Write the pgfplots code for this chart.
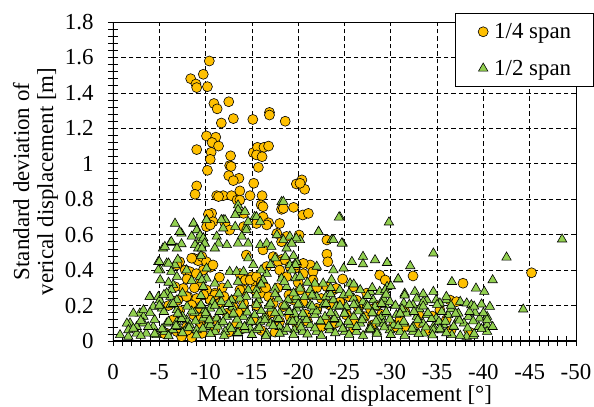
\documentclass[border=0pt]{standalone}
\usepackage{fontspec}
\setmainfont{Liberation Serif}
\usepackage{pgfplots}
\pgfplotsset{compat=1.18}
\definecolor{qyel}{RGB}{255,192,0}
\definecolor{qgrn}{RGB}{146,208,80}
\begin{document}
\begin{tikzpicture}
\useasboundingbox (-113bp,-66bp) rectangle (481bp,341bp);
\begin{axis}[
  scale only axis,
  width=463bp, height=319bp,
  at={(0,0)}, anchor=south west,
  x dir=reverse,
  xmin=-50, xmax=0, ymin=0, ymax=1.8,
  xtick={0,-5,-10,-15,-20,-25,-30,-35,-40,-45,-50},
  xticklabels={0,-5,-10,-15,-20,-25,-30,-35,-40,-45,-50},
  ytick={0,0.2,0.4,0.6,0.8,1,1.2,1.4,1.6,1.8},
  yticklabels={0,0.2,0.4,0.6,0.8,1,1.2,1.4,1.6,1.8},
  minor x tick num=4, minor y tick num=4,
  xtick pos=bottom, ytick pos=left,
  tick align=center,
  major tick length=10bp, minor tick length=10bp,
  every tick/.style={black, line width=0.6bp},
  grid=major,
  major grid style={black, line width=0.7bp, dash pattern=on 4.5bp off 3bp},
  axis line style={black, line width=0.8bp},
  tick label style={font=\fontsize{23}{26}\selectfont},
  xticklabel style={inner sep=1bp, yshift=-17bp},
  yticklabel style={xshift=-11bp},
  label style={font=\fontsize{23}{24}\selectfont},
  xlabel={Mean torsional displacement [°]},
  xlabel style={at={(rel axis cs:0.5,0)}, anchor=center, inner sep=1bp, yshift=-55bp},
  ylabel={Standard deviation of\\verical displacement [m]},
  ylabel style={align=center},
  legend image code/.code={\path (-7bp,0bp) (0bp,0bp); \draw[#1] plot coordinates {(0bp,0bp)};},
  legend style={at={(1.038,1.028)}, anchor=north east, draw=black, line width=0.8bp,
    fill=white, font=\fontsize{23}{26}\selectfont, row sep=16bp, inner xsep=20bp, inner ysep=8bp,
    /tikz/every odd column/.append style={column sep=4bp}},
  legend cell align=left,
]
\addplot[only marks, mark=*, mark size=5bp, mark options={fill=qyel, draw=black, line width=0.6bp}] coordinates {
(-10.4,1.58) (-9.75,1.505) (-8.39,1.48) (-8.96,1.45) (-9.04,1.43) (-10.2,1.435) (-10.9,1.34) (-11.25,1.31) (-12.5,1.35) (-11.7,1.23) (-13.0,1.255) (-15.1,1.25) (-16.9,1.29) (-16.9,1.275) (-18.6,1.24)
(-10.1,1.157) (-11.1,1.15) (-10.7,1.12) (-11.4,1.10) (-9.04,1.08) (-10.6,1.065) (-12.7,1.045) (-10.5,1.025) (-12.6,0.99) (-12.75,0.985) (-10.2,0.963) (-12.5,0.933) (-13.6,0.918) (-13.0,0.905)
(-15.15,1.063) (-15.6,1.093) (-16.3,1.093) (-16.8,1.10) (-15.5,1.05) (-16.1,1.04) (-15.7,0.98) (-15.2,0.89) (-13.7,0.847) (-9.04,0.875) (-8.86,0.828) (-19.8,0.886) (-20.4,0.909) (-20.7,0.856) (-20.2,0.89)
(-11.2,0.82) (-11.9,0.82) (-12.8,0.82) (-14.8,0.82) (-16.1,0.82) (-11.4,0.815) (-13.4,0.795) (-16.0,0.768) (-16.2,0.758) (-13.7,0.795) (-18.2,0.743) (-19.5,0.754) (-18.4,0.748) (-20.5,0.711) (-21.1,0.72)
(-10.65,0.72) (-10.3,0.715) (-10.1,0.645) (-10.8,0.673) (-10.5,0.655) (-16.2,0.70) (-16.8,0.667) (-18.0,0.663) (-12.1,0.663) (-14.1,0.72) (-12.6,0.626) (-14.1,0.645) (-15.5,0.663) (-16.6,0.655) (-17.7,0.607) (-18.75,0.59)
(-18.2,0.56) (-23.1,0.57) (-23.1,0.49) (-23.2,0.447) (-18.2,0.46) (-21.3,0.429) (-20.55,0.38) (-20.1,0.598) (-20.55,0.438) (-21.6,0.391) (-19.65,0.41)
(-8.7,0.467) (-9.2,0.453) (-7.2,0.447) (-6.9,0.429) (-8.5,0.467) (-7.8,0.40) (-8.3,0.391) (-10.5,0.416)
(-9.6,0.476) (-10.1,0.447) (-10.8,0.429) (-9.75,0.40)
(-16.2,0.514) (-16.6,0.42) (-17.3,0.476) (-17.85,0.447) (-18.6,0.457) (-19.1,0.42) (-19.8,0.429) (-18.4,0.363)
(-14.4,0.485) (-15.0,0.363) (-15.5,0.316) (-15.9,0.344) (-13.7,0.38) (-14.3,0.344) (-14.8,0.344) (-15.5,0.363) (-16.05,0.335) (-14.1,0.288) (-15.3,0.288) (-16.05,0.27)
(-7.6,0.297) (-8.1,0.25) (-9.4,0.325) (-11.0,0.27) (-13.7,0.288) (-14.1,0.194) (-6.7,0.306) (-7.95,0.25) (-9.04,0.24) (-8.5,0.203) (-9.4,0.184) (-8.7,0.147)
(-10.1,0.288) (-11.0,0.26) (-10.5,0.231) (-11.55,0.213) (-13.0,0.231) (-14.1,0.213) (-17.3,0.213) (-18.4,0.194) (-19.5,0.231)
(-18.75,0.363) (-20.2,0.288) (-21.6,0.344) (-22.0,0.175) (-23.8,0.288) (-25.95,0.306) (-25.2,0.156)
(-23.1,0.306) (-24.1,0.297) (-26.3,0.231) (-27.4,0.27) (-22.0,0.184) (-23.4,0.203) (-25.2,0.147) (-27.2,0.137)
(-28.8,0.372) (-29.4,0.344) (-32.4,0.367) (-37.8,0.326) (-36.4,0.231) (-37.1,0.222) (-35.3,0.175) (-30.3,0.09) (-30.5,0.08) (-45.2,0.385)
(-10.1,0.137) (-11.2,0.118) (-12.3,0.156) (-13.35,0.099) (-15.15,0.118) (-16.6,0.137) (-18.0,0.109) (-19.1,0.137) (-19.8,0.099)
(-5.8,0.043) (-7.95,0.08) (-9.4,0.10) (-5.6,0.04) (-6.9,0.053) (-7.4,0.025) (-8.5,0.02) (-9.6,0.043)
(-11,0.06) (-12.5,0.05) (-14,0.07) (-16,0.06) (-17.5,0.05) (-21,0.11) (-22.5,0.08) (-24,0.1) (-26,0.07) (-28,0.09) (-31,0.12) (-33,0.1) (-34.5,0.14) (-6.5,0.12) (-7.2,0.17) (-8,0.06) (-36.5,0.06)
(-6.0,0.2) (-7.0,0.23) (-8.8,0.3) (-9.8,0.26) (-11.8,0.3) (-12.0,0.25) (-13.0,0.19) (-15.5,0.2) (-16.8,0.25) (-17.8,0.3) (-19.0,0.26) (-20.5,0.22) (-21.2,0.26) (-22.5,0.24) (-24.5,0.22) (-25.5,0.25) (-26.5,0.19) (-28.5,0.2) (-29.0,0.15) (-31.5,0.17) (-33.0,0.15)
(-8.0,0.35) (-9.0,0.38) (-11.5,0.36) (-16.5,0.3) (-18.0,0.4) (-20.0,0.33) (-22.0,0.3) (-24.8,0.35) (-9.5,0.13) (-13.5,0.16) (-17.2,0.16) (-20.8,0.15) (-23.0,0.12) (-26.0,0.11) (-27.8,0.18) (-31.5,0.08) (-34.0,0.06) (-36.0,0.12) (-38.5,0.05)
};
\addlegendentry{1/4 span}
\addplot[only marks, mark=triangle*, mark size=5.4bp, mark options={fill=qgrn, draw=black, line width=0.6bp}] coordinates {
(-6.7,0.663) (-8.7,0.663) (-10.1,0.683) (-7.4,0.607) (-8.5,0.59) (-9.1,0.626) (-9.4,0.57) (-9.75,0.58) (-9.9,0.551)
(-6.2,0.555) (-7.4,0.547) (-5.4,0.523) (-6.9,0.523) (-8.86,0.542) (-9.2,0.523)
(-4.9,0.447) (-5.8,0.438) (-6.7,0.429) (-5.1,0.40) (-6.3,0.391) (-5.1,0.344) (-6.9,0.363) (-7.95,0.40) (-9.4,0.363) (-10.1,0.41)
(-6.5,0.316) (-6.3,0.288) (-5.8,0.27) (-4.0,0.25) (-4.9,0.25) (-6.2,0.25) (-6.9,0.231)
(-2.9,0.156) (-3.3,0.137) (-4.35,0.194) (-5.3,0.184) (-6.2,0.203) (-6.9,0.175)
(-1.84,0.1) (-2.56,0.08) (-3.3,0.1) (-4.35,0.08) (-5.8,0.1) (-6.9,0.109) (-7.95,0.118) (-9.75,0.128)
(-0.76,0.034) (-1.65,0.025) (-2.56,0.043) (-3.6,0.043) (-4.7,0.034) (-5.6,0.053) (-6.5,0.062) (-7.95,0.072) (-9.04,0.062) (-10.1,0.08)
(-7.2,0.616) (-5.6,0.532) (-6.3,0.56) (-5.0,0.447) (-4.9,0.40) (-6.0,0.438) (-3.95,0.25) (-5.05,0.23) (-3.3,0.175) (-2.2,0.156) (-1.5,0.099) (-1.66,0.062)
(-8.7,0.664) (-9.04,0.626) (-9.4,0.597) (-10.1,0.683) (-11.9,0.683) (-13.4,0.727) (-13.5,0.766) (-14.4,0.645) (-15.3,0.701) (-18.2,0.785)
(-13.5,0.74) (-14.25,0.73) (-12.1,0.683) (-13.2,0.711) (-11.7,0.683) (-11.9,0.636) (-14.6,0.673) (-15.5,0.70) (-15.9,0.673) (-18.4,0.786)
(-13.2,0.645) (-14.4,0.626) (-13.9,0.59) (-13.5,0.551) (-11.2,0.59) (-11.4,0.551) (-12.3,0.542) (-11.0,0.523)
(-14.6,0.551) (-15.9,0.542) (-16.6,0.551) (-17.1,0.532) (-17.7,0.598) (-18.4,0.57) (-19.1,0.59) (-19.3,0.551) (-18.75,0.523) (-20.2,0.57)
(-9.75,0.58) (-9.9,0.551) (-9.6,0.523)
(-14.6,0.467) (-15.15,0.429) (-17.5,0.467) (-18.6,0.476) (-19.1,0.429) (-19.8,0.447)
(-12.6,0.391) (-13.35,0.391) (-12.4,0.316) (-14.1,0.391)
(-16.6,0.38) (-18.2,0.353) (-18.75,0.306) (-17.5,0.297) (-16.2,0.344)
(-10.1,0.353) (-9.6,0.344) (-9.75,0.306)
(-14.6,0.288) (-15.5,0.288) (-14.4,0.25) (-15.7,0.231) (-13.7,0.24) (-12.8,0.231) (-11.7,0.222) (-10.8,0.222) (-10.5,0.184) (-9.9,0.175)
(-17.85,0.24) (-18.9,0.231) (-19.8,0.231) (-17.1,0.184) (-18.75,0.194) (-19.8,0.184) (-18.0,0.156) (-16.4,0.137)
(-10.1,0.147) (-11.2,0.128) (-12.3,0.137) (-13.0,0.147) (-14.1,0.137) (-14.8,0.118) (-15.3,0.147) (-15.9,0.109) (-17.0,0.099) (-18.0,0.08) (-19.1,0.109) (-19.8,0.118)
(-10.5,0.09) (-11.55,0.099) (-12.6,0.08) (-13.7,0.09) (-14.8,0.071) (-15.5,0.062) (-16.6,0.043) (-18.4,0.053) (-19.6,0.062) (-11.0,0.053) (-12.1,0.053) (-13.35,0.043) (-14.25,0.062)
(-24.5,0.70) (-22.2,0.617) (-23.6,0.57) (-24.8,0.551) (-19.8,0.58) (-19.3,0.551)
(-25.8,0.447) (-27.0,0.476) (-28.3,0.457) (-27.0,0.434) (-29.6,0.441) (-24.9,0.41) (-23.8,0.40) (-23.6,0.345)
(-19.7,0.43) (-19.3,0.40) (-19.7,0.355) (-20.2,0.363) (-21.8,0.325) (-22.7,0.325) (-21.3,0.288) (-20.2,0.297)
(-24.5,0.288) (-25.6,0.325) (-26.7,0.288) (-27.8,0.278) (-28.8,0.278) (-29.6,0.306)
(-19.8,0.25) (-20.7,0.25) (-22.0,0.25) (-23.0,0.25) (-23.8,0.231) (-24.9,0.259) (-26.0,0.24) (-27.0,0.222) (-28.1,0.231) (-29.2,0.231)
(-20.2,0.203) (-21.3,0.203) (-22.7,0.203) (-24.1,0.194) (-25.2,0.194) (-26.3,0.203) (-27.4,0.203) (-28.3,0.194) (-29.4,0.203)
(-19.6,0.156) (-20.7,0.137) (-21.8,0.147) (-22.9,0.137) (-24.0,0.147) (-25.05,0.156) (-26.0,0.137) (-27.0,0.137) (-28.1,0.156) (-29.0,0.137)
(-20.2,0.099) (-21.3,0.09) (-22.4,0.109) (-23.4,0.08) (-24.5,0.099) (-25.6,0.09) (-26.7,0.099) (-27.8,0.08) (-28.8,0.099)
(-20.5,0.053) (-22.0,0.053) (-23.4,0.062) (-25.05,0.053) (-26.3,0.053) (-27.6,0.062) (-28.5,0.053)
(-29.8,0.67) (-34.6,0.495) (-29.6,0.441) (-32.1,0.423) (-30.8,0.348)
(-36.6,0.334) (-39.2,0.297) (-40.1,0.278) (-41.0,0.344)
(-29.4,0.288) (-29.2,0.24) (-31.5,0.268) (-32.6,0.278) (-34.6,0.278) (-32.8,0.24) (-33.9,0.231)
(-29.9,0.222) (-31.4,0.213) (-32.4,0.203) (-33.5,0.222) (-34.9,0.231) (-36.0,0.231) (-37.5,0.222) (-38.2,0.213) (-38.7,0.203) (-39.8,0.207) (-40.7,0.194) (-35.3,0.213)
(-29.55,0.156) (-30.6,0.147) (-31.7,0.156) (-32.8,0.137) (-33.9,0.147) (-34.9,0.128) (-36.2,0.147) (-37.3,0.128) (-38.4,0.137) (-39.6,0.128) (-40.4,0.137) (-37.3,0.156)
(-29.2,0.099) (-30.3,0.09) (-31.4,0.099) (-32.4,0.08) (-33.5,0.099) (-34.6,0.08) (-35.7,0.09) (-36.8,0.08) (-39.5,0.08) (-40.4,0.09)
(-29.9,0.062) (-31.0,0.053) (-32.4,0.053) (-33.5,0.043) (-34.6,0.062) (-35.5,0.062) (-36.6,0.034) (-38.2,0.025) (-38.9,0.03) (-40.4,0.053)
(-48.5,0.574) (-44.3,0.179) (-42.5,0.472) (-22.2,0.617) (-24.4,0.697) (-23.8,0.57) (-24.7,0.551) (-30.8,0.35)
(-7.5,0.14) (-8.3,0.09) (-8.8,0.16) (-7.0,0.08) (-9.5,0.2) (-11.8,0.17) (-12.9,0.19) (-16.8,0.2) (-17.6,0.12) (-21.6,0.17) (-23.9,0.12) (-26.6,0.17) (-28.6,0.12) (-31.2,0.18) (-33.1,0.18) (-36.5,0.18) (-37.9,0.1) (-39.1,0.16) (-35.2,0.11)
(-3.0,0.03) (-4.5,0.04) (-6.0,0.028) (-7.5,0.045) (-9.0,0.033) (-10.5,0.04) (-12.0,0.03) (-13.5,0.046) (-15.0,0.035) (-16.5,0.028) (-18.0,0.042) (-19.5,0.034) (-21.0,0.038) (-22.5,0.03) (-24.0,0.045) (-25.5,0.036) (-27.0,0.03) (-28.5,0.042) (-30.0,0.035) (-31.5,0.03) (-33.0,0.04) (-34.5,0.033) (-36.0,0.045) (-37.5,0.03) (-39.0,0.04)
(-2.2,0.07) (-3.8,0.08) (-5.3,0.068) (-6.8,0.085) (-8.2,0.075) (-9.7,0.07) (-11.3,0.082) (-12.8,0.068) (-14.2,0.08) (-15.8,0.075) (-17.3,0.085) (-18.8,0.07) (-20.3,0.078) (-21.8,0.072) (-23.3,0.085) (-24.8,0.07) (-26.3,0.08) (-27.8,0.068) (-29.3,0.078) (-30.8,0.085) (-32.3,0.07) (-33.8,0.078) (-35.3,0.068) (-36.8,0.082) (-38.3,0.072) (-39.8,0.068) (-41.0,0.08)
(-3.0,0.115) (-4.5,0.12) (-6.0,0.11) (-7.4,0.125) (-8.9,0.112) (-10.4,0.118) (-11.9,0.108) (-13.4,0.122) (-14.9,0.11) (-16.4,0.118) (-17.9,0.125) (-19.4,0.11) (-20.9,0.12) (-22.4,0.113) (-23.9,0.125) (-25.4,0.11) (-26.9,0.118) (-28.4,0.112) (-29.9,0.122) (-31.4,0.11) (-32.9,0.118) (-34.4,0.125) (-35.9,0.11) (-37.4,0.116) (-38.9,0.112) (-40.4,0.12)
(-4.0,0.16) (-5.5,0.165) (-7.0,0.155) (-8.5,0.168) (-10.0,0.158) (-11.5,0.165) (-13.0,0.155) (-14.5,0.162) (-16.0,0.17) (-17.5,0.158) (-19.0,0.165) (-20.5,0.155) (-22.0,0.168) (-23.5,0.16) (-25.0,0.155) (-26.5,0.168) (-28.0,0.16) (-29.5,0.165) (-31.0,0.155) (-32.5,0.165) (-34.0,0.158) (-35.5,0.165) (-37.0,0.155) (-38.5,0.165) (-40.0,0.158)
(-5.0,0.2) (-6.5,0.21) (-8.0,0.195) (-9.5,0.205) (-11.0,0.2) (-12.5,0.21) (-14.0,0.2) (-15.5,0.205) (-17.0,0.212) (-18.5,0.2) (-20.0,0.208) (-21.5,0.196) (-23.0,0.21) (-24.5,0.2) (-26.0,0.205) (-27.5,0.196) (-29.0,0.21) (-30.5,0.2) (-32.0,0.205) (-33.5,0.196) (-35.0,0.205) (-36.5,0.2) (-39.0,0.195)
(-5.5,0.26) (-7.5,0.27) (-9.5,0.255) (-11.5,0.265) (-13.5,0.27) (-15.5,0.258) (-17.5,0.265) (-19.5,0.27) (-21.5,0.258) (-23.5,0.265) (-25.5,0.27) (-27.5,0.255) (-29.5,0.262) (-31.5,0.258) (-33.5,0.265) (-36.0,0.25)
(-6.0,0.33) (-8.5,0.34) (-11.0,0.325) (-13.5,0.335) (-16.0,0.32) (-18.5,0.335) (-21.0,0.33) (-23.5,0.3) (-26.0,0.32) (-28.0,0.3) (-30.0,0.31)
(-7.0,0.46) (-9.5,0.48) (-17.0,0.43) (-19.5,0.48) (-22.0,0.42) (-16.0,0.4)
};
\addlegendentry{1/2 span}
\draw[black, line width=1.8bp] (rel axis cs:0,1) -- (rel axis cs:0,0) -- (rel axis cs:1,0);
\end{axis}
\end{tikzpicture}
\end{document}
